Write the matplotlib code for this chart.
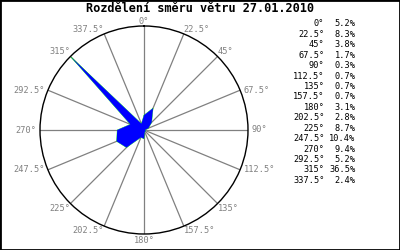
"""Wind rose for 27.01.2010 -- share of each wind direction drawn as a filled
polygon on a polar axis, with the table of shares listed on the right."""
import matplotlib
matplotlib.use("Agg")
import matplotlib.pyplot as plt
import numpy as np
from matplotlib.patches import Rectangle

TITLE = "Rozdělení směru větru 27.01.2010"
directions = [0, 22.5, 45, 67.5, 90, 112.5, 135, 157.5,
              180, 202.5, 225, 247.5, 270, 292.5, 315, 337.5]
shares = [5.2, 8.3, 3.8, 1.7, 0.3, 0.7, 0.7, 0.7,
          3.1, 2.8, 8.7, 10.4, 9.4, 5.2, 36.5, 2.4]
dir_labels = [f"{d:g}°" for d in directions]
share_labels = [f"{s}%" for s in shares]

MONO = "DejaVu Sans Mono"
GRAY = "#808080"


def draw_rose(fig):
    ax = fig.add_axes([0.10, 0.064, 0.52, 0.832], projection="polar")
    ax.set_theta_zero_location("N")
    ax.set_theta_direction(-1)
    rmax = max(shares)
    ax.set_ylim(0, rmax)
    ax.grid(False)
    ax.set_xticks([])
    ax.set_yticks([])
    ax.spines["polar"].set_color("black")
    ax.spines["polar"].set_linewidth(1.0)

    theta = np.deg2rad(directions)
    # spokes + labels anchored at the spoke ends
    for t, lab in zip(theta, dir_labels):
        ax.plot([t, t], [0, rmax], color=GRAY, lw=0.9, zorder=1)
        s, c = np.sin(t), np.cos(t)
        ha = "center" if abs(s) < 0.1 else ("left" if s > 0 else "right")
        va = "bottom" if c > 0.5 else ("top" if c < -0.5 else "center")
        dx = 2.5 * np.sign(s) if va == "center" else 0
        dy = -1.5 if abs(s) < 0.1 and c < 0 else 0
        ax.annotate(lab, (t, rmax), xytext=(dx, dy), textcoords="offset points",
                    ha=ha, va=va, color=GRAY, fontsize=6.2, family=MONO,
                    annotation_clip=False)

    # closed polygon of shares
    tt = np.append(theta, theta[0])
    rr = np.append(shares, shares[0])
    ax.fill(tt, rr, color="#0000ff", lw=0, zorder=3)
    ax.plot(tt, rr, color="#00ff00", lw=0.4, zorder=2)
    return ax


def draw_table(fig):
    y0, dy = 24.0, 10.42
    for i, (d, s) in enumerate(zip(dir_labels, share_labels)):
        y = 1 - (y0 + i * dy) / 250
        fig.text(324.5 / 400, y, d, ha="right", va="center", fontsize=6.2,
                 family=MONO, color="black")
        fig.text(355.5 / 400, y, s, ha="right", va="center", fontsize=6.2,
                 family=MONO, color="black")


def main():
    fig = plt.figure(figsize=(4, 2.5), dpi=100)
    fig.patch.set_facecolor("white")
    fig.text(0.5, 1 - 9.0 / 250, TITLE, ha="center", va="center",
             fontsize=8.6, fontweight="bold", family=MONO)
    draw_rose(fig)
    draw_table(fig)
    fig.patches.append(Rectangle((0, 0), 1, 1, transform=fig.transFigure,
                                 fill=False, edgecolor="black", lw=2))
    fig.savefig("out.png", dpi=100)
    plt.close(fig)


if __name__ == "__main__":
    main()
